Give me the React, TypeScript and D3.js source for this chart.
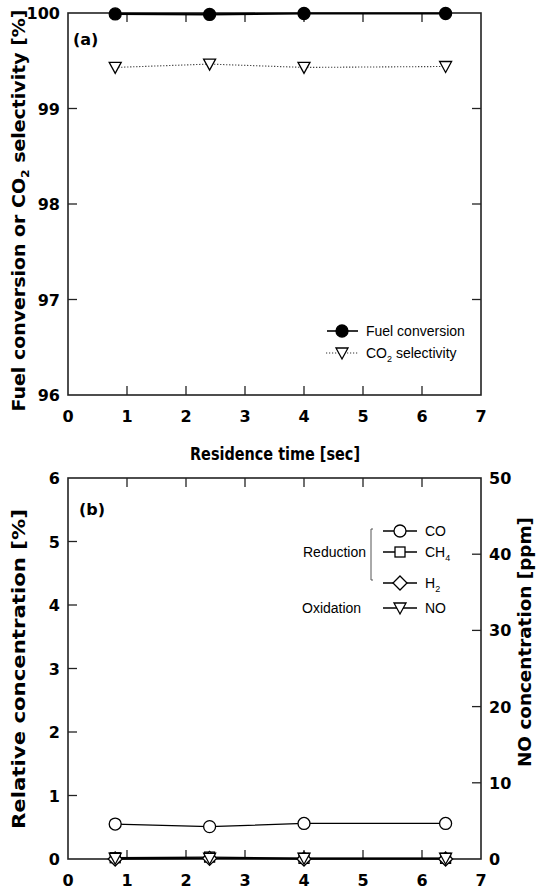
import { useEffect, useRef } from "react";
import * as d3 from "d3";

const residenceTimes = [0.8, 2.4, 4.0, 6.4];
const fuelConversion = [99.99, 99.985, 99.995, 99.995];
const co2Selectivity = [99.43, 99.465, 99.43, 99.44];
const coConc = [0.55, 0.51, 0.56, 0.56];
const ch4Conc = [0.02, 0.03, 0.01, 0.01];
const h2Conc = [0.0, 0.01, 0.0, 0.0];
const noConc = [0.1, 0.1, 0.1, 0.1];

const xTicks = [0, 1, 2, 3, 4, 5, 6, 7];
const topYTicks = [96, 97, 98, 99, 100];
const botYTicks = [0, 1, 2, 3, 4, 5, 6];
const noTicks = [0, 10, 20, 30, 40, 50];

const BOLD = "'DejaVu Sans', Verdana, sans-serif";
const REG = "'Liberation Sans', Arial, sans-serif";

type G = d3.Selection<SVGGElement, unknown, null, undefined>;

function frame(
  g: G,
  x: d3.ScaleLinear<number, number>,
  y: d3.ScaleLinear<number, number>,
  yTicks: number[],
  rightTicks: number[],
  yRight: d3.ScaleLinear<number, number>
) {
  const [x0, x1] = x.range();
  const [y0, y1] = y.range();
  const tl = 9;
  g.append("rect")
    .attr("x", x0)
    .attr("y", y1)
    .attr("width", x1 - x0)
    .attr("height", y0 - y1)
    .attr("fill", "none")
    .attr("stroke", "#222")
    .attr("stroke-width", 1.6);
  xTicks.slice(1, -1).forEach((t) => {
    g.append("line").attr("x1", x(t)).attr("x2", x(t)).attr("y1", y0).attr("y2", y0 - tl)
      .attr("stroke", "#222").attr("stroke-width", 1.3);
    g.append("line").attr("x1", x(t)).attr("x2", x(t)).attr("y1", y1).attr("y2", y1 + tl)
      .attr("stroke", "#222").attr("stroke-width", 1.3);
  });
  yTicks.slice(1, -1).forEach((t) => {
    g.append("line").attr("x1", x0).attr("x2", x0 + tl).attr("y1", y(t)).attr("y2", y(t))
      .attr("stroke", "#222").attr("stroke-width", 1.3);
  });
  rightTicks.slice(1, -1).forEach((t) => {
    g.append("line").attr("x1", x1).attr("x2", x1 - tl).attr("y1", yRight(t)).attr("y2", yRight(t))
      .attr("stroke", "#222").attr("stroke-width", 1.3);
  });
  // x labels
  xTicks.forEach((t) => {
    g.append("text")
      .attr("x", x(t))
      .attr("y", y0 + 27)
      .attr("text-anchor", "middle")
      .attr("font-family", BOLD)
      .attr("font-weight", 700)
      .attr("font-size", 16)
      .text(String(t));
  });
  yTicks.forEach((t) => {
    g.append("text")
      .attr("x", x0 - 8)
      .attr("y", y(t) + 6)
      .attr("text-anchor", "end")
      .attr("font-family", BOLD)
      .attr("font-weight", 700)
      .attr("font-size", 16)
      .text(String(t));
  });
}

function marker(g: G, kind: string, cx: number, cy: number, filled = false) {
  const fill = filled ? "#000" : "#fff";
  const s = "#000";
  if (kind === "circle") {
    g.append("circle").attr("cx", cx).attr("cy", cy).attr("r", 6)
      .attr("fill", fill).attr("stroke", s).attr("stroke-width", 1.3);
  } else if (kind === "square") {
    g.append("rect").attr("x", cx - 5).attr("y", cy - 5).attr("width", 10).attr("height", 10)
      .attr("fill", fill).attr("stroke", s).attr("stroke-width", 1.3);
  } else if (kind === "diamond") {
    g.append("path").attr("d", `M${cx},${cy - 7}L${cx + 7},${cy}L${cx},${cy + 7}L${cx - 7},${cy}Z`)
      .attr("fill", fill).attr("stroke", s).attr("stroke-width", 1.3);
  } else {
    g.append("path").attr("d", `M${cx - 6},${cy - 5}L${cx + 6},${cy - 5}L${cx},${cy + 6}Z`)
      .attr("fill", fill).attr("stroke", s).attr("stroke-width", 1.3);
  }
}

export default function App() {
  const svgRef = useRef<SVGSVGElement>(null);

  useEffect(() => {
    if (!svgRef.current) return;
    const svg = d3.select(svgRef.current);
    svg.selectAll("*").remove();
    const g = svg.append("g") as unknown as G;

    const x = d3.scaleLinear().domain([0, 7]).range([68, 481]);

    // ---- panel (a)
    const yA = d3.scaleLinear().domain([96, 100]).range([395, 13]);
    frame(g, x, yA, topYTicks, topYTicks, yA);

    const lineA = d3.line<number>().x((_, i) => x(residenceTimes[i]));
    g.append("path")
      .attr("d", lineA.y((d) => yA(d))(fuelConversion))
      .attr("fill", "none").attr("stroke", "#000").attr("stroke-width", 2.2);
    g.append("path")
      .attr("d", lineA.y((d) => yA(d))(co2Selectivity))
      .attr("fill", "none").attr("stroke", "#333").attr("stroke-width", 1.1)
      .attr("stroke-dasharray", "1.2,1.8");
    fuelConversion.forEach((v, i) => marker(g, "circle", x(residenceTimes[i]), yA(v), true));
    co2Selectivity.forEach((v, i) => marker(g, "tri", x(residenceTimes[i]), yA(v)));

    g.append("text").attr("x", 73).attr("y", 45)
      .attr("font-family", BOLD).attr("font-weight", 700).attr("font-size", 16).text("(a)");

    // legend (a)
    g.append("line").attr("x1", 327).attr("x2", 358).attr("y1", 331).attr("y2", 331)
      .attr("stroke", "#000").attr("stroke-width", 1.6);
    marker(g, "circle", 342, 331, true);
    g.append("line").attr("x1", 326).attr("x2", 358).attr("y1", 353).attr("y2", 353)
      .attr("stroke", "#333").attr("stroke-width", 1.1).attr("stroke-dasharray", "1.2,1.8");
    marker(g, "tri", 342, 353);
    g.append("text").attr("x", 366).attr("y", 336)
      .attr("font-family", REG).attr("font-size", 14).text("Fuel conversion");
    const co2 = g.append("text").attr("x", 366).attr("y", 358)
      .attr("font-family", REG).attr("font-size", 14);
    co2.append("tspan").text("CO");
    co2.append("tspan").attr("dy", 4).attr("font-size", 9).text("2");
    co2.append("tspan").attr("dy", -4).text(" selectivity");

    // titles
    g.append("text").attr("x", 275).attr("y", 460).attr("text-anchor", "middle")
      .attr("font-family", BOLD).attr("font-weight", 700).attr("font-size", 17)
      .attr("textLength", 170).attr("lengthAdjust", "spacingAndGlyphs")
      .text("Residence time [sec]");
    const ya = g.append("text")
      .attr("transform", `translate(25,${(8 + 413) / 2}) rotate(-90)`)
      .attr("text-anchor", "middle")
      .attr("font-family", BOLD).attr("font-weight", 700).attr("font-size", 17)
      .attr("textLength", 402).attr("lengthAdjust", "spacingAndGlyphs");
    ya.append("tspan").text("Fuel conversion or CO");
    ya.append("tspan").attr("dy", 4).attr("font-size", 11).text("2");
    ya.append("tspan").attr("dy", -4).text(" selectivity [%]");

    // ---- panel (b)
    const yB = d3.scaleLinear().domain([0, 6]).range([859, 478]);
    const yNO = d3.scaleLinear().domain([0, 50]).range([859, 478]);
    frame(g, x, yB, botYTicks, noTicks, yNO);
    noTicks.forEach((t) => {
      g.append("text").attr("x", 489).attr("y", yNO(t) + 6)
        .attr("font-family", BOLD).attr("font-weight", 700).attr("font-size", 16)
        .text(String(t));
    });

    const series = [
      { vals: coConc, kind: "circle", y: yB },
      { vals: ch4Conc, kind: "square", y: yB },
      { vals: h2Conc, kind: "diamond", y: yB },
      { vals: noConc, kind: "tri", y: yNO },
    ];
    series.forEach((s) => {
      g.append("path")
        .attr("d", d3.line<number>().x((_, i) => x(residenceTimes[i])).y((d) => s.y(d))(s.vals))
        .attr("fill", "none").attr("stroke", "#000").attr("stroke-width", 1.3);
    });
    series.forEach((s) => {
      s.vals.forEach((v, i) => marker(g, s.kind, x(residenceTimes[i]), s.y(v)));
    });

    g.append("text").attr("x", 79).attr("y", 515)
      .attr("font-family", BOLD).attr("font-weight", 700).attr("font-size", 16).text("(b)");

    // legend (b)
    const legB = [
      { label: "CO", sub: "", kind: "circle", y: 531 },
      { label: "CH", sub: "4", kind: "square", y: 552 },
      { label: "H", sub: "2", kind: "diamond", y: 583 },
      { label: "NO", sub: "", kind: "tri", y: 608 },
    ];
    legB.forEach((l) => {
      g.append("line").attr("x1", 383).attr("x2", 417).attr("y1", l.y).attr("y2", l.y)
        .attr("stroke", "#000").attr("stroke-width", 1.3);
      marker(g, l.kind, 400, l.y);
      const t = g.append("text").attr("x", 425).attr("y", l.y + 5)
        .attr("font-family", REG).attr("font-size", 14);
      t.append("tspan").text(l.label);
      if (l.sub) t.append("tspan").attr("dy", 4).attr("font-size", 9).text(l.sub);
    });
    g.append("path").attr("d", "M373,529H371V580H373")
      .attr("fill", "none").attr("stroke", "#555").attr("stroke-width", 1);
    g.append("text").attr("x", 303).attr("y", 557)
      .attr("font-family", REG).attr("font-size", 14).text("Reduction");
    g.append("text").attr("x", 302).attr("y", 613)
      .attr("font-family", REG).attr("font-size", 14).text("Oxidation");

    g.append("text")
      .attr("transform", `translate(25,${(509 + 829) / 2}) rotate(-90)`)
      .attr("text-anchor", "middle")
      .attr("font-family", BOLD).attr("font-weight", 700).attr("font-size", 17)
      .attr("textLength", 320).attr("lengthAdjust", "spacingAndGlyphs")
      .text("Relative concentration [%]");
    g.append("text")
      .attr("transform", `translate(531,${(517 + 767) / 2}) rotate(-90)`)
      .attr("text-anchor", "middle")
      .attr("font-family", BOLD).attr("font-weight", 700).attr("font-size", 17)
      .attr("textLength", 250).attr("lengthAdjust", "spacingAndGlyphs")
      .text("NO concentration [ppm]");
  }, []);

  return (
    <svg
      ref={svgRef}
      width={538}
      height={891}
      style={{ position: "absolute", left: 0, top: 0, background: "#fff" }}
    />
  );
}
